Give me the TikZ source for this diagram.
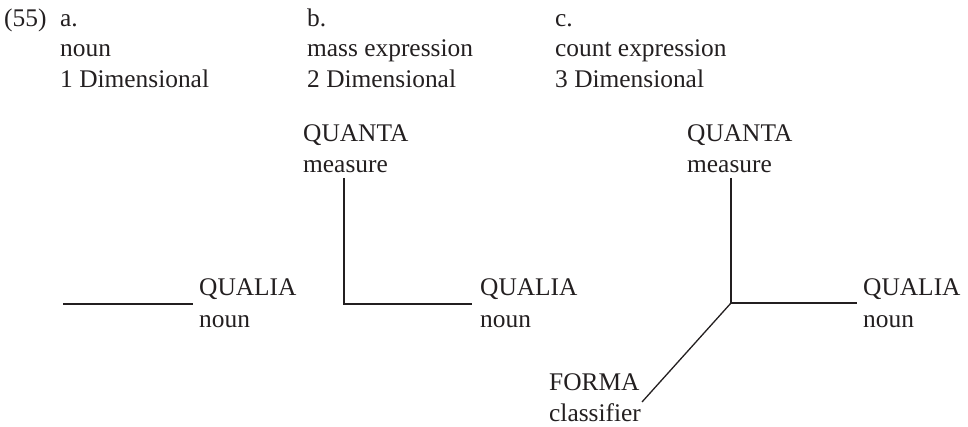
\documentclass[tikz,border=0pt]{standalone}
\usepackage{fontspec}
\setmainfont{Liberation Serif}
\definecolor{ink}{RGB}{35,31,32}
\begin{document}
\begin{tikzpicture}[x=1pt,y=-1pt,
  lbl/.style={anchor=base west,inner sep=0pt,text=ink,font=\fontsize{25.4}{31}\selectfont},
  edge/.style={draw=ink,line width=1.3pt}]
\useasboundingbox (0,0) rectangle (968,427);
% headings
\node[lbl] (ex) at (4,27) {(55)};
\node[lbl] (ha) at (60,27) {a.};
\node[lbl] (ha2) at (60,57) {noun};
\node[lbl] (ha3) at (60,88) {1 Dimensional};
\node[lbl] (hb) at (307,27) {b.};
\node[lbl] (hb2) at (307,57) {mass expression};
\node[lbl] (hb3) at (307,88) {2 Dimensional};
\node[lbl] (hc) at (555,27) {c.};
\node[lbl] (hc2) at (555,57) {count expression};
\node[lbl] (hc3) at (555,88) {3 Dimensional};
% diagram a
\node[lbl] (qla) at (199,296) {QUALIA};
\node[lbl] (qlan) at (199,327) {noun};
\coordinate (aend) at (63,304);
\draw[edge] (aend) -- ([xshift=-6pt,yshift=-8pt]qla.base west);
% diagram b
\node[lbl] (qnb) at (303,142) {QUANTA};
\node[lbl] (qnbm) at (303,173) {measure};
\node[lbl] (qlb) at (480,296) {QUALIA};
\node[lbl] (qlbn) at (480,327) {noun};
\coordinate (bcorner) at (344,304);
\draw[edge] (bcorner |- 0,178) -- (bcorner) -- ([xshift=-8pt,yshift=-8pt]qlb.base west);
% diagram c
\node[lbl] (qnc) at (687,142) {QUANTA};
\node[lbl] (qncm) at (687,173) {measure};
\node[lbl] (qlc) at (863,296) {QUALIA};
\node[lbl] (qlcn) at (863,327) {noun};
\node[lbl] (fm) at (549,390) {FORMA};
\node[lbl] (fmc) at (549,421) {classifier};
\coordinate (ccenter) at (731,303);
\coordinate (ctop) at (731,178);
\coordinate (cleft) at (642,402);
\draw[edge] (ctop) -- (ccenter);
\draw[edge] (ccenter) -- ([xshift=-6pt,yshift=-7pt]qlc.base west);
\draw[edge] (ccenter) -- (cleft);
\end{tikzpicture}
\end{document}
